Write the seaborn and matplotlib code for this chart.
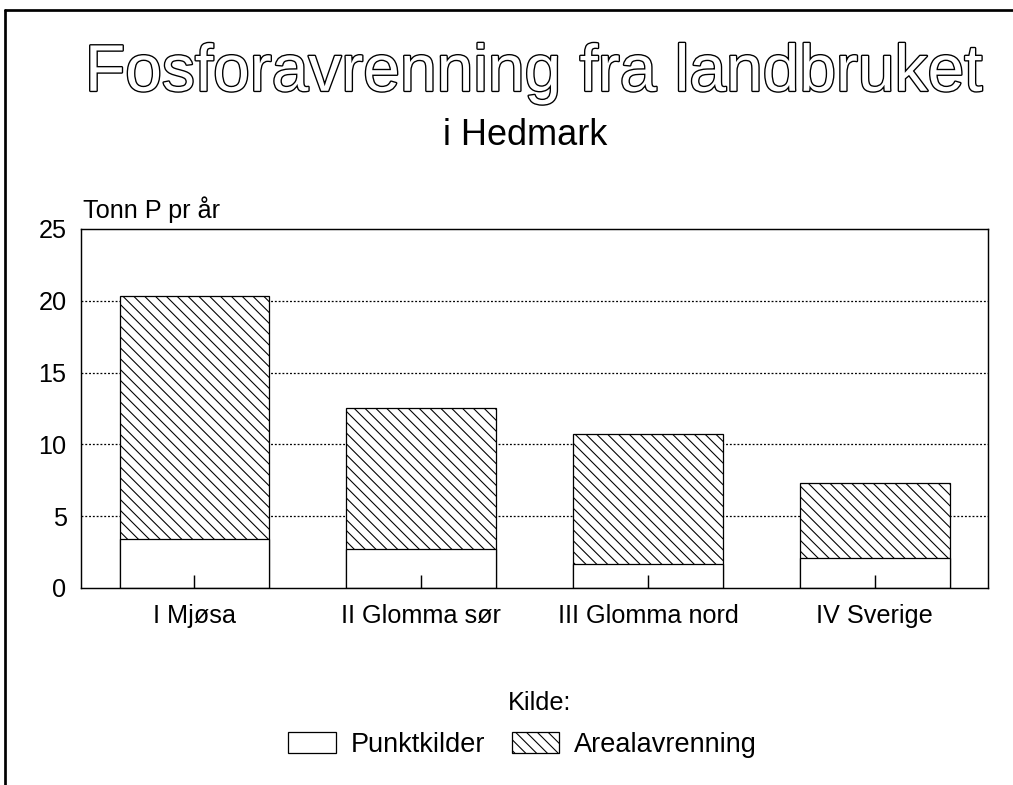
import numpy as np
import pandas as pd
import seaborn as sns
import matplotlib.pyplot as plt
import matplotlib.patheffects as pe
from matplotlib.patches import Patch
from matplotlib.lines import Line2D

# Data (tonn P per year)
regions = ['I Mjøsa', 'II Glomma sør', 'III Glomma nord', 'IV Sverige']
punktkilder = [3.4, 2.7, 1.7, 2.1]
arealavrenning = [16.95, 9.85, 9.0, 5.2]
yticks = [0, 5, 10, 15, 20, 25]

df = pd.DataFrame({'region': regions, 'punkt': punktkilder, 'areal': arealavrenning})
df['total'] = df['punkt'] + df['areal']

sns.set_theme(style='white')
plt.rcParams['font.family'] = ['Liberation Sans', 'DejaVu Sans']
plt.rcParams['hatch.linewidth'] = 0.6
for k in ['text.color', 'axes.labelcolor', 'xtick.color', 'ytick.color']:
    plt.rcParams[k] = 'black'

DPI = 130
fig = plt.figure(figsize=(1013 / DPI, 785 / DPI), dpi=DPI)
ax = fig.add_axes([0.080, 0.251, 0.8954, 0.4573])

# stacked bars: total (hatched) then point sources drawn over it
sns.barplot(data=df, x='region', y='total', color='white', edgecolor='black',
            hatch='\\\\\\\\', linewidth=0.7, width=0.66, ax=ax, zorder=2)
sns.barplot(data=df, x='region', y='punkt', color='white', edgecolor='black',
            linewidth=0.7, width=0.66, ax=ax, zorder=3)

for y in yticks[1:-1]:
    ax.axhline(y, color='black', lw=0.7, ls=(0, (1.5, 1.5)), zorder=1)

ax.set_ylim(0, 25)
ax.set_xlim(-0.5, 3.5)
ax.set_yticks(yticks)
ax.set_xlabel('')
ax.set_ylabel('')
for s in ax.spines.values():
    s.set_visible(True)
    s.set_color('black')
    s.set_linewidth(0.8)
    s.set_zorder(4)
ax.xaxis.set_zorder(5)
ax.tick_params(axis='x', direction='in', length=7, width=0.8, color='black',
               labelsize=14, pad=9, bottom=True)
ax.tick_params(axis='y', length=0, labelsize=14, pad=8)

fig.text(0.082, 0.7325, 'Tonn P pr år', fontsize=14, ha='left', va='center')

# hollow title
fig.text(0.527, 0.906, 'Fosforavrenning fra landbruket', fontsize=36.5,
         ha='center', va='center', color='white',
         path_effects=[pe.withStroke(linewidth=1.5, foreground='black')])
fig.text(0.518, 0.828, 'i Hedmark', fontsize=20, ha='center', va='center')

# page frame
fig.add_artist(Line2D([0.005, 1.0], [0.987, 0.987], color='black', lw=1.5))
fig.add_artist(Line2D([0.005, 0.005], [0.0, 0.987], color='black', lw=1.5))

fig.text(0.533, 0.104, 'Kilde:', fontsize=14, ha='center', va='center')
handles = [Patch(facecolor='white', edgecolor='black', lw=0.7, label='Punktkilder'),
           Patch(facecolor='white', edgecolor='black', lw=0.7, hatch='\\\\\\\\', label='Arealavrenning')]
leg = fig.legend(handles=handles, ncol=2, loc='center',
                 bbox_to_anchor=(0.516, 0.051), frameon=False, fontsize=15,
                 handlelength=1.75, handleheight=0.85,
                 handletextpad=0.55, columnspacing=1.0)
for t in leg.get_texts():
    t.set_color('black')

fig.savefig('out.png', dpi=DPI)
